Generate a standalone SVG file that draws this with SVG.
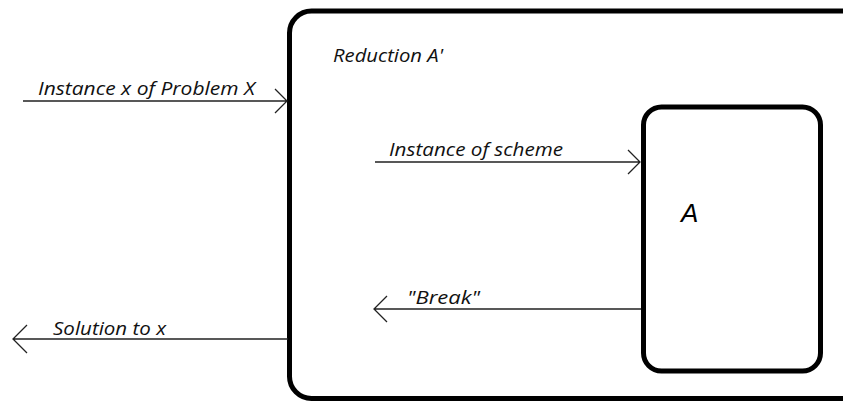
<svg xmlns="http://www.w3.org/2000/svg" width="843" height="401" viewBox="0 0 843 401">
<style>
.box{fill:none;stroke:#000;stroke-width:5}
.ln{fill:none;stroke:#222;stroke-width:1.3}
.t{font-family:"Open Sans","Liberation Sans",Arial,sans-serif;font-style:italic;font-size:17.5px;fill:#111}
</style>
<rect width="843" height="401" fill="#fff"/>
<g id="reduction">
<rect class="box" x="289.5" y="11" width="580" height="387.5" rx="22"/>
<text class="t" x="333" y="62" textLength="110" lengthAdjust="spacingAndGlyphs">Reduction A'</text>
</g>
<g id="adversary">
<rect class="box" x="643.5" y="107" width="177" height="264" rx="18"/>
<text x="681" y="222" font-family="Liberation Sans,Arial,sans-serif" font-style="italic" font-size="26" fill="#000">A</text>
</g>
<g id="connectors">
<path class="ln" d="M23 101H287M275 89L287 101L275 113"/>
<text class="t" x="38" y="95" textLength="217" lengthAdjust="spacingAndGlyphs">Instance x of Problem X</text>
<path class="ln" d="M375 162H640M628 150L640 162L628 174"/>
<text class="t" x="389" y="156" textLength="174" lengthAdjust="spacingAndGlyphs">Instance of scheme</text>
<path class="ln" d="M641 309H374M387 296L374 309L387 322"/>
<text class="t" x="407" y="304" textLength="73" lengthAdjust="spacingAndGlyphs">"Break"</text>
<path class="ln" d="M288 339H13M27 325L13 339L27 353"/>
<text class="t" x="53" y="335" textLength="113" lengthAdjust="spacingAndGlyphs">Solution to x</text>
</g>
</svg>
